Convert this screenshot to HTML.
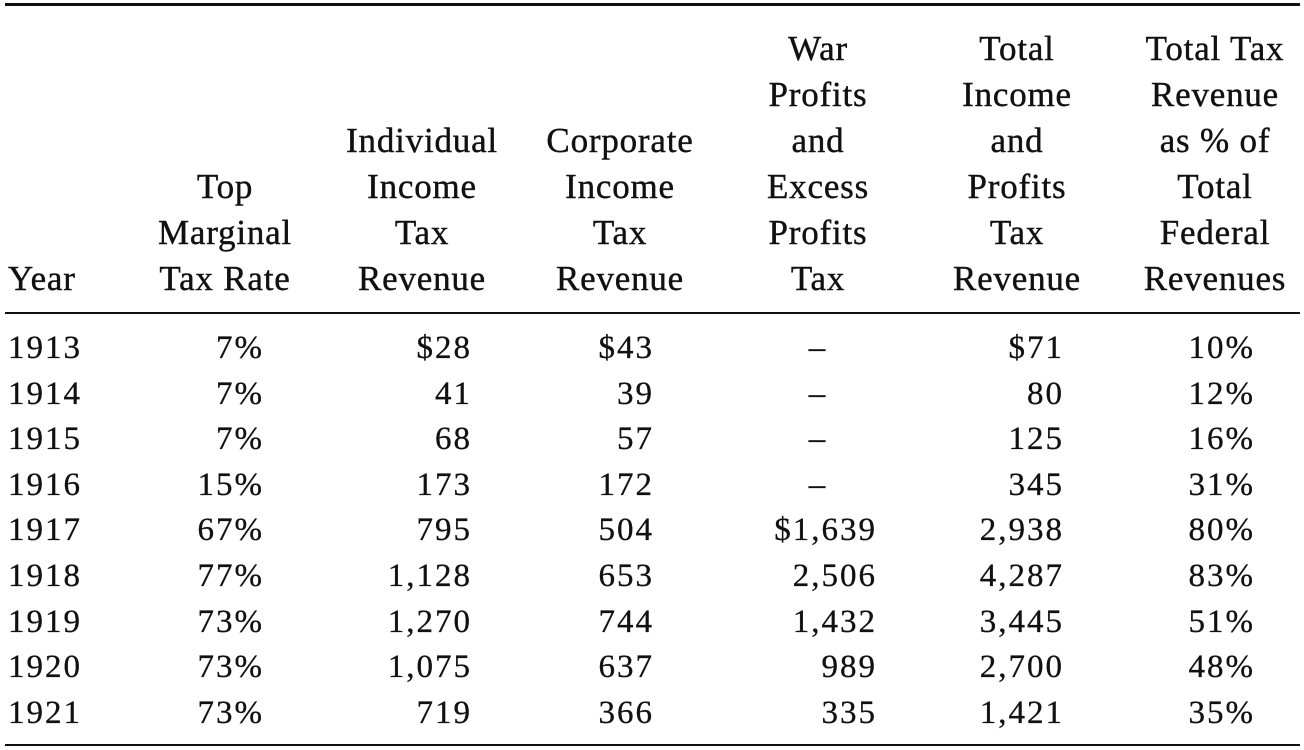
<!DOCTYPE html>
<html><head><meta charset="utf-8">
<style>
html,body{margin:0;padding:0;background:#fff;}
#wrap{position:relative;width:1304px;height:750px;overflow:hidden;font-family:"Liberation Serif",serif;color:#111;}
.rule{position:absolute;left:5px;width:1295px;background:#111;}
.h{position:absolute;font-size:35px;line-height:46px;text-align:center;white-space:nowrap;letter-spacing:0.8px;-webkit-text-stroke:0.4px #111;}
.c{position:absolute;font-size:33px;line-height:40px;white-space:nowrap;text-align:right;letter-spacing:2px;-webkit-text-stroke:0.3px #111;}
</style></head><body>
<div id="wrap">
<div class="rule" style="top:3px;height:3px"></div>
<div class="rule" style="top:312px;height:2px"></div>
<div class="rule" style="top:744px;height:2px"></div>
</div>
<script>
const headers=[["Year"],["Top","Marginal","Tax Rate"],["Individual","Income","Tax","Revenue"],["Corporate","Income","Tax","Revenue"],["War","Profits","and","Excess","Profits","Tax"],["Total","Income","and","Profits","Tax","Revenue"],["Total Tax","Revenue","as % of","Total","Federal","Revenues"]];
const years=["1913","1914","1915","1916","1917","1918","1919","1920","1921"];
const topRate=["7%","7%","7%","15%","67%","77%","73%","73%","73%"];
const indiv=["$28","41","68","173","795","1,128","1,270","1,075","719"];
const corp=["$43","39","57","172","504","653","744","637","366"];
const war=["–","–","–","–","$1,639","2,506","1,432","989","335"];
const total=["$71","80","125","345","2,938","4,287","3,445","2,700","1,421"];
const pct=["10%","12%","16%","31%","80%","83%","51%","48%","35%"];
const wrap=document.getElementById('wrap');
const hCenters=[42,225,422,620,818,1017,1215];
const colNames=["year","top-marginal-rate","individual-income-tax","corporate-income-tax","war-profits-tax","total-income-profits-tax","total-tax-pct"];
headers.forEach((lines,i)=>{
  const d=document.createElement('div');
  d.className='h';
  
  
  d.innerHTML=lines.join('<br>');
  const top=300-lines.length*46+2;
  d.style.top=top+'px';
  if(i===0){d.style.left='8px';d.style.textAlign='left';}
  else{d.style.left=(hCenters[i]-100)+'px';d.style.width='200px';}
  wrap.appendChild(d);
});
const cols=[years,topRate,indiv,corp,war,total,pct];
const rights=[null,262,470,652,875,1062,1253];
years.forEach((y,r)=>{
  const top=328+r*45.6;
  cols.forEach((col,ci)=>{
    const d=document.createElement('div');
    d.className='c';
    
    
    d.textContent=col[r];
    d.style.top=top+'px';
    if(ci===0){d.style.left='8px';d.style.textAlign='left';}
    else if(col[r]==='–'){d.style.left=(818-50)+'px';d.style.width='100px';d.style.textAlign='center';}
    else{d.style.left=(rights[ci]-200+2)+'px';d.style.width='200px';}
    wrap.appendChild(d);
  });
});
</script>
</body></html>
